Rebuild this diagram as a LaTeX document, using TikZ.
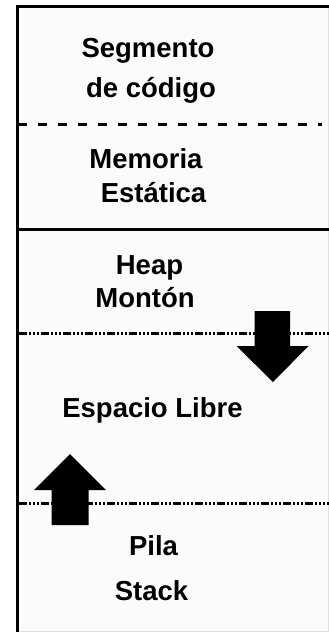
\documentclass[tikz,border=0pt]{standalone}
\usepackage{fontspec}
\setmainfont{Liberation Sans}
\definecolor{PanelFill}{HTML}{FBFBFB}
\definecolor{EdgeLight}{HTML}{E0E0E0}
\tikzset{
  seglabel/.style={font=\bfseries\fontsize{27.5}{32}\selectfont, inner sep=0pt, anchor=base},
  dashdotline/.style={line width=2.5pt, dash pattern=on 8pt off 2pt on 2pt off 2pt on 2pt off 2pt on 2pt off 2pt}
}

\begin{document}
\begin{tikzpicture}[x=1pt, y=-1pt]
            \useasboundingbox (0,0) rectangle (329,632);
            % Memory panel
            \fill[PanelFill] (17,6) rectangle (328,631);
            \draw[EdgeLight, line width=1pt] (328,7) -- (328,631) -- (19,631);
            \draw[line width=3pt] (17.5,632) -- (17.5,6) -- (329,6);

            % Segment borders
            \draw[line width=3pt, dash pattern=on 8.5pt off 11.5pt] (18.3,124.5) -- (322,124.5);
            \draw[line width=3pt] (17.5,229) -- (329,229);
            \draw[dashdotline] (19,333.5) -- (329,333.5);
            \draw[dashdotline] (19,503.5) -- (329,503.5);

            % Growth arrows
            \fill (254.5,311) -- (290,311) -- (290,346) -- (308.5,346) -- (273,382)
                  -- (236.5,346) -- (254.5,346) -- cycle;
            \fill (51.5,525) -- (88.5,525) -- (88.5,490) -- (106,490) -- (70,454)
                  -- (34,490) -- (51.5,490) -- cycle;

            % Labels
            \node[seglabel] (seg1) at (148,57) {Segmento};
            \node[seglabel] (seg2) at (151,97) {de código};
            \node[seglabel] (stat1) at (146,168) {Memoria};
            \node[seglabel] (stat2) at (153.5,202) {Estática};
            \node[seglabel] (heap1) at (149.5,274) {Heap};
            \node[seglabel] (heap2) at (145,307) {Montón};
            \node[seglabel] (free) at (152.5,417) {Espacio Libre};
            \node[seglabel] (stack1) at (153.5,555) {Pila};
            \node[seglabel] (stack2) at (151.5,600) {Stack};
        \end{tikzpicture}
\end{document}
